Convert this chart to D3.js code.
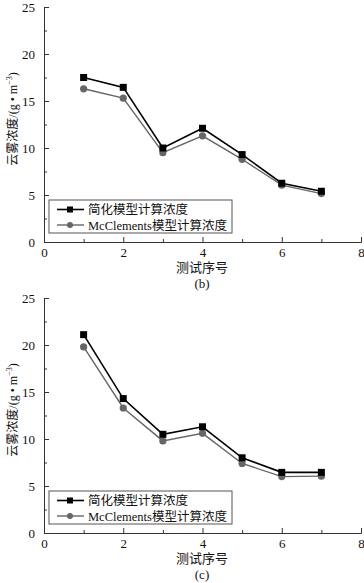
<!DOCTYPE html>
<html><head><meta charset="utf-8">
<script src="https://cdn.jsdelivr.net/npm/d3@7"></script>
<style>body{margin:0;background:#fff}svg{display:block}</style>
</head><body>
<script>
const testIndex = [1, 2, 3, 4, 5, 6, 7];
const simplifiedB = [17.5, 16.45, 10.0, 12.1, 9.3, 6.25, 5.4];
const mcClementsB = [16.3, 15.3, 9.5, 11.3, 8.8, 6.05, 5.15];
const simplifiedC = [21.1, 14.3, 10.5, 11.3, 8.0, 6.45, 6.45];
const mcClementsC = [19.8, 13.3, 9.8, 10.6, 7.4, 6.0, 6.05];
const xTicks = [0, 2, 4, 6, 8];
const yTicks = [0, 5, 10, 15, 20, 25];
const seriesNames = ["简化模型计算浓度", "McClements模型计算浓度"];
const xTitle = "测试序号";
const panelLabels = ["(b)", "(c)"];

const W = 364, H = 583;
const svg = d3.select("body").append("svg").attr("width", W).attr("height", H);
const serif = "'Liberation Serif','Times New Roman','Noto Sans CJK SC',serif";

function panel(top, s1, s2, label) {
  const x = d3.scaleLinear().domain([0, 8]).range([44, 361]);
  const y = d3.scaleLinear().domain([0, 25]).range([top + 235, top]);
  const g = svg.append("g");
  const ya = g.append("g").attr("transform", "translate(44,0)")
    .call(d3.axisLeft(y).tickValues(d3.range(0, 25.01, 2.5)).tickSize(-4).tickPadding(9)
      .tickFormat(d => yTicks.includes(d) ? d : ""));
  ya.selectAll("line").attr("x2", d => yTicks.includes(d) ? 5 : 3);
  const xa = g.append("g").attr("transform", `translate(0,${top + 235})`)
    .call(d3.axisBottom(x).tickValues(d3.range(0, 8.01, 1)).tickSize(-4).tickPadding(6)
      .tickFormat(d => xTicks.includes(d) ? d : ""));
  xa.selectAll("line").attr("y2", d => xTicks.includes(d) ? -5 : -3);
  [ya, xa].forEach(a => {
    a.select(".domain").attr("stroke", "#333");
    a.selectAll("line").attr("stroke", "#333");
    a.selectAll("text").attr("font-family", serif).attr("font-size", 13).attr("fill", "#111");
  });
  g.append("text").attr("transform", `translate(17,${top + 112}) rotate(-90)`)
    .attr("text-anchor", "middle").attr("font-family", serif).attr("font-size", 12).attr("fill", "#111")
    .html('云雾浓度/(g • m<tspan dy="-5" font-size="8">−3</tspan><tspan dy="5">)</tspan>');
  g.append("text").attr("x", 202).attr("y", top + 265).attr("text-anchor", "middle")
    .attr("font-family", serif).attr("font-size", 13).attr("fill", "#111").text(xTitle);
  g.append("text").attr("x", 202).attr("y", top + 281).attr("text-anchor", "middle")
    .attr("font-family", serif).attr("font-size", 13).attr("fill", "#111").text(label);

  const line = d3.line().x((d, i) => x(testIndex[i])).y(d => y(d));
  g.append("path").datum(s2).attr("d", line).attr("fill", "none").attr("stroke", "#666").attr("stroke-width", 1.4);
  g.append("path").datum(s1).attr("d", line).attr("fill", "none").attr("stroke", "#000").attr("stroke-width", 1.6);
  g.selectAll(".c").data(s2).enter().append("circle")
    .attr("cx", (d, i) => x(testIndex[i])).attr("cy", d => y(d)).attr("r", 3.6).attr("fill", "#666");
  g.selectAll(".s").data(s1).enter().append("rect")
    .attr("x", (d, i) => x(testIndex[i]) - 3.5).attr("y", d => y(d) - 3.5).attr("width", 7).attr("height", 7).attr("fill", "#000");

  const lg = g.append("g").attr("transform", `translate(49,${top + 193})`);
  lg.append("rect").attr("width", 183).attr("height", 33).attr("fill", "#fff").attr("stroke", "#555").attr("stroke-width", 1);
  const rows = [{c: "#000", sq: true}, {c: "#666", sq: false}];
  rows.forEach((r, i) => {
    const yy = 9.5 + i * 15.5;
    lg.append("line").attr("x1", 8).attr("x2", 35).attr("y1", yy).attr("y2", yy).attr("stroke", r.c).attr("stroke-width", r.sq ? 1.6 : 1.4);
    if (r.sq) lg.append("rect").attr("x", 18).attr("y", yy - 3).attr("width", 6).attr("height", 6).attr("fill", r.c);
    else lg.append("circle").attr("cx", 21).attr("cy", yy).attr("r", 3).attr("fill", r.c);
    lg.append("text").attr("x", 39).attr("y", yy + 4.5).attr("font-family", serif).attr("font-size", 12.5).attr("fill", "#111").text(seriesNames[i]);
  });
}
panel(7, simplifiedB, mcClementsB, panelLabels[0]);
panel(298, simplifiedC, mcClementsC, panelLabels[1]);
</script>
</body></html>
